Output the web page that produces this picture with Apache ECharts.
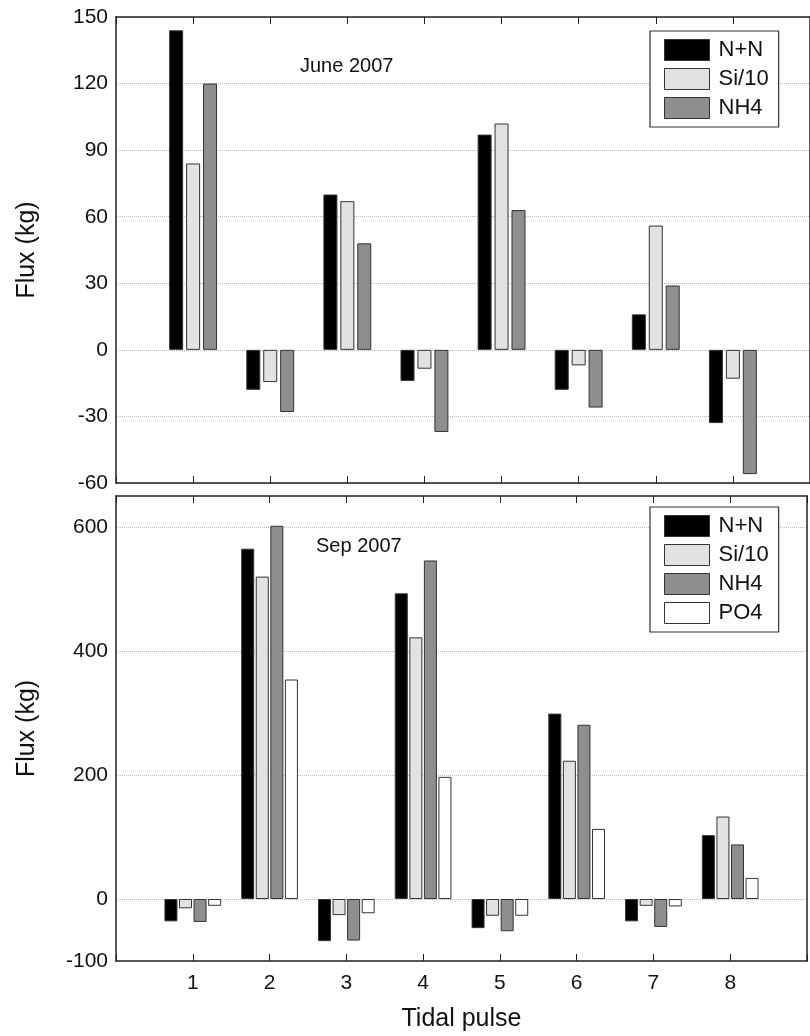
<!DOCTYPE html>
<html>
<head>
<meta charset="utf-8">
<script src="https://cdn.jsdelivr.net/npm/echarts@6/dist/echarts.min.js"></script>
<style>
  html, body { margin: 0; padding: 0; background: #fff; }
  #chart { width: 810px; height: 1036px; }
</style>
</head>
<body>
<div id="chart"></div>
<script>
// tidal pulse numbers
const pulses = [1, 2, 3, 4, 5, 6, 7, 8];

// June 2007
const juneNN = [144, -18, 70, -14, 97, -18, 16, -33];
const juneSi = [84, -14.5, 67, -8.5, 102, -7, 56, -13];
const juneNH4 = [120, -28, 48, -37, 63, -26, 29, -56];

// Sep 2007
const sepNN = [-36, 565, -68, 493, -47, 299, -36, 103];
const sepSi = [-15, 520, -26, 422, -27, 223, -11, 133];
const sepNH4 = [-37, 602, -67, 546, -52, 281, -45, 88];
const sepPO4 = [-11, 354, -23, 197, -27, 113, -12, 34];

const seriesColors = {
  'N+N': '#000000',
  'Si/10': '#e2e2e2',
  'NH4': '#8e8e8e',
  'PO4': '#ffffff'
};

const font = 'Liberation Sans, Arial, sans-serif';
const chart = echarts.init(document.getElementById('chart'));

function toPairs(vals) {
  return vals.map((v, i) => [pulses[i], v]);
}

function barSeries(name, vals, grid, width, gap) {
  return {
    name: name,
    type: 'bar',
    xAxisIndex: grid * 2,
    yAxisIndex: grid * 2,
    data: toPairs(vals),
    barWidth: width,
    barGap: gap,
    itemStyle: { color: seriesColors[name], borderColor: '#333', borderWidth: 1 },
    emphasis: { disabled: true }
  };
}

const grids = [
  { left: 116, right: -4, top: 17, height: 466 },
  { left: 116, right: -4, top: 496, height: 465 }
];

function xAxes(grid, showLabels) {
  const base = {
    type: 'value', gridIndex: grid, min: 0, max: 9, interval: 1,
    splitLine: { show: false },
    axisLine: { show: true, onZero: false, lineStyle: { color: '#222', width: 1.5 } },
    axisTick: { inside: true, length: 7, lineStyle: { color: '#222' } }
  };
  return [
    Object.assign({}, base, {
      position: 'bottom',
      axisLabel: {
        show: showLabels, color: '#111', fontFamily: font, fontSize: 21, margin: 12,
        formatter: v => (v >= 1 && v <= 8 ? String(v) : '')
      },
      name: showLabels ? 'Tidal pulse' : '',
      nameLocation: 'middle', nameGap: 46,
      nameTextStyle: { color: '#111', fontFamily: font, fontSize: 25 }
    }),
    Object.assign({}, base, { position: 'top', axisLabel: { show: false } })
  ];
}

function yAxes(grid, min, max, interval, formatter, splitColors) {
  const base = {
    type: 'value', gridIndex: grid, min: min, max: max, interval: interval,
    axisLine: { show: true, onZero: false, lineStyle: { color: '#222', width: 1.5 } },
    axisTick: { show: false }
  };
  return [
    Object.assign({}, base, {
      position: 'left',
      axisLabel: { color: '#111', fontFamily: font, fontSize: 21, margin: 8, formatter: formatter },
      splitLine: { show: true, lineStyle: { color: splitColors, type: 'dotted', width: 1 } },
      name: 'Flux (kg)', nameLocation: 'middle', nameGap: 76,
      nameTextStyle: { color: '#111', fontFamily: font, fontSize: 25 }
    }),
    Object.assign({}, base, { position: 'right', axisLabel: { show: false }, splitLine: { show: false } })
  ];
}

const legendBase = {
  orient: 'vertical', left: 650, width: 152,
  icon: 'rect',
  itemWidth: 45, itemHeight: 21, itemGap: 7,
  padding: [8, 10, 8, 14],
  borderColor: '#333', borderWidth: 1.2, backgroundColor: '#fff',
  selectedMode: false,
  textStyle: { color: '#111', fontFamily: font, fontSize: 22, padding: [0, 0, 0, 4] },
  itemStyle: { borderColor: '#333', borderWidth: 1 }
};

const option = {
  animation: false,
  backgroundColor: '#fff',
  grid: grids,
  title: [
    { text: 'June 2007', left: 295, top: 51, textStyle: { fontFamily: font, fontSize: 20, fontWeight: 'normal', color: '#111' } },
    { text: 'Sep 2007', left: 311, top: 531, textStyle: { fontFamily: font, fontSize: 20, fontWeight: 'normal', color: '#111' } }
  ],
  legend: [
    Object.assign({}, legendBase, { top: 31, data: ['N+N', 'Si/10', 'NH4'] }),
    Object.assign({}, legendBase, { top: 507, data: ['N+N', 'Si/10', 'NH4', 'PO4'] })
  ],
  xAxis: xAxes(0, false).concat(xAxes(1, true)),
  yAxis: yAxes(0, -60, 150, 30, v => String(v), ['#bbb'])
    .concat(yAxes(1, -100, 650, 100, v => (v === -100 || v % 200 === 0 ? String(v) : ''), ['transparent', '#bbb'])),
  series: [
    barSeries('N+N', juneNN, 0, 14, '21%'),
    barSeries('Si/10', juneSi, 0, 14, '21%'),
    barSeries('NH4', juneNH4, 0, 14, '21%'),
    barSeries('N+N', sepNN, 1, 13, '12%'),
    barSeries('Si/10', sepSi, 1, 13, '12%'),
    barSeries('NH4', sepNH4, 1, 13, '12%'),
    barSeries('PO4', sepPO4, 1, 13, '12%')
  ]
};

chart.setOption(option);
</script>
</body>
</html>
